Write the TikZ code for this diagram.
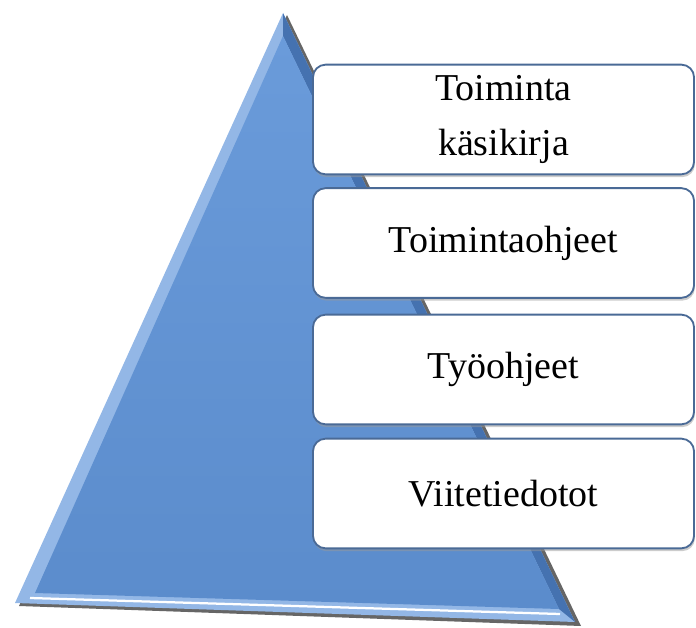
\documentclass[tikz,border=0pt]{standalone}
\usepackage{fontspec}
\setmainfont{Liberation Serif}
\usetikzlibrary{shadows}

\definecolor{boxedge}{HTML}{4A6A96}
\definecolor{bevellight}{HTML}{93B7E6}
\definecolor{beveldark}{HTML}{4572B0}
\definecolor{pyrtop}{HTML}{6A9BDA}
\definecolor{pyrbottom}{HTML}{5B8CCC}

\tikzset{
  level/.style={draw=boxedge, line width=1.3pt, fill=white, rounded corners=9pt,
    minimum width=271pt, minimum height=78pt, align=center,
    font=\fontsize{27}{39}\selectfont,
    drop shadow={shadow xshift=0.6pt, shadow yshift=-2pt, fill=black!40}},
}

\begin{document}
\begin{tikzpicture}[x=0.025cm, y=-0.025cm]
\useasboundingbox (0,0) rectangle (696,628);
% pyramid
\fill[black!60] (287,15) -- (19,606) -- (581,626) -- cycle;
\fill[bevellight] (283,13) -- (15,603) -- (575,622) -- cycle;
\fill[beveldark] (283,13) -- (575,622) -- (559,609) -- (283,36) -- cycle;
\shade[top color=pyrtop, bottom color=pyrbottom] (283,36) -- (35,593) -- (559,609) -- cycle;
\draw[white, line width=1.6pt] (30,598) -- (560,614);
% levels
\node[level] (kasikirja) at (503.5,119.5) {Toiminta\\käsikirja};
\node[level] (ohjeet) at (503.5,243) {Toimintaohjeet};
\node[level] (tyoohjeet) at (503.5,369.5) {Työohjeet};
\node[level] (viite) at (503.5,493.5) {Viitetiedotot};
\end{tikzpicture}
\end{document}
